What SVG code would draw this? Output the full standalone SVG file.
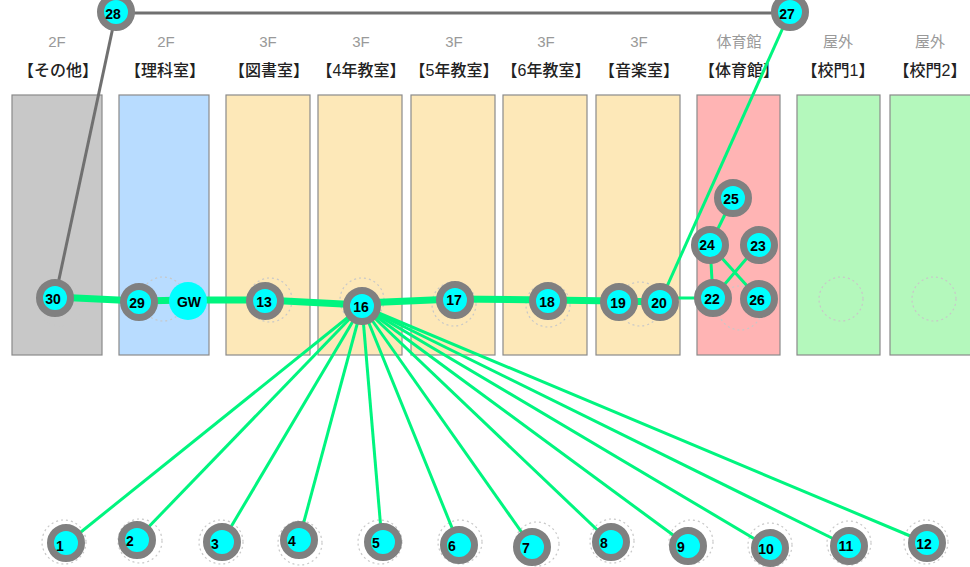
<svg xmlns="http://www.w3.org/2000/svg" width="970" height="567" viewBox="0 0 970 567">
  <style>
    .zone { stroke: #8a8a8a; stroke-width: 1.2; }
    .floor { font-family: "Liberation Sans", "Noto Sans CJK JP", sans-serif; font-size: 15px; fill: #999999; text-anchor: middle; }
    .room { font-family: "Liberation Sans", "Noto Sans CJK JP", sans-serif; font-size: 16px; font-weight: 500; fill: #222222; text-anchor: middle; }
    .home { fill: none; stroke: #c8c8c8; stroke-width: 1.2; stroke-dasharray: 2 3; }
    .ring { fill: #00ffff; stroke: #808080; stroke-width: 7; }
    .gw { fill: #00ffff; }
    .lbl { font-family: "Liberation Sans", Arial, sans-serif; font-size: 14px; font-weight: bold; fill: #000; text-anchor: middle; dominant-baseline: central; }
    .trunk { stroke: #00f57f; stroke-width: 7; stroke-linecap: butt; fill: none; }
    .link { stroke: #00f57f; stroke-width: 3; fill: none; }
    .wire { stroke: #707070; stroke-width: 3; fill: none; }
  </style>

  <rect width="970" height="567" fill="#ffffff"/>

  <!-- room columns -->
  <g id="zones">
    <rect class="zone" x="12" y="95" width="90" height="260" fill="#c8c8c8"/>
    <rect class="zone" x="119" y="95" width="90" height="260" fill="#b8dcff"/>
    <rect class="zone" x="226" y="95" width="84" height="260" fill="#fde8b8"/>
    <rect class="zone" x="318" y="95" width="84" height="260" fill="#fde8b8"/>
    <rect class="zone" x="411" y="95" width="84" height="260" fill="#fde8b8"/>
    <rect class="zone" x="503" y="95" width="84" height="260" fill="#fde8b8"/>
    <rect class="zone" x="596" y="95" width="84" height="260" fill="#fde8b8"/>
    <rect class="zone" x="697" y="95" width="83" height="260" fill="#ffb4b4"/>
    <rect class="zone" x="797" y="95" width="83" height="260" fill="#b4f8bc"/>
    <rect class="zone" x="890" y="95" width="84" height="260" fill="#b4f8bc"/>
  </g>

  <!-- column headings -->
  <g id="headings">
    <text class="floor" x="57" y="47">2F</text>
    <text class="room" x="58" y="76">【その他】</text>
    <text class="floor" x="166" y="47">2F</text>
    <text class="room" x="165" y="76">【理科室】</text>
    <text class="floor" x="268" y="47">3F</text>
    <text class="room" x="269" y="76">【図書室】</text>
    <text class="floor" x="361" y="47">3F</text>
    <text class="room" x="361" y="76">【4年教室】</text>
    <text class="floor" x="454" y="47">3F</text>
    <text class="room" x="454" y="76">【5年教室】</text>
    <text class="floor" x="546" y="47">3F</text>
    <text class="room" x="546" y="76">【6年教室】</text>
    <text class="floor" x="639" y="47">3F</text>
    <text class="room" x="639" y="76">【音楽室】</text>
    <text class="floor" x="739" y="47">体育館</text>
    <text class="room" x="739" y="76">【体育館】</text>
    <text class="floor" x="838" y="47">屋外</text>
    <text class="room" x="838" y="76">【校門1】</text>
    <text class="floor" x="930" y="47">屋外</text>
    <text class="room" x="930" y="76">【校門2】</text>
  </g>

  <!-- home positions (dotted) -->
  <g id="homes">
    <circle class="home" cx="60" cy="304" r="22"/>
    <circle class="home" cx="163" cy="299" r="22"/>
    <circle class="home" cx="270" cy="300" r="22"/>
    <circle class="home" cx="362" cy="300" r="22"/>
    <circle class="home" cx="454" cy="304" r="22"/>
    <circle class="home" cx="548" cy="305" r="22"/>
    <circle class="home" cx="640" cy="304" r="22"/>
    <circle class="home" cx="740" cy="308" r="22"/>
    <circle class="home" cx="841" cy="299" r="22"/>
    <circle class="home" cx="934" cy="299" r="22"/>
    <circle class="home" cx="64" cy="542" r="22"/>
    <circle class="home" cx="140" cy="541" r="22"/>
    <circle class="home" cx="221" cy="542" r="22"/>
    <circle class="home" cx="300" cy="543" r="22"/>
    <circle class="home" cx="380" cy="542" r="22"/>
    <circle class="home" cx="460" cy="542" r="22"/>
    <circle class="home" cx="537" cy="544" r="22"/>
    <circle class="home" cx="612" cy="541" r="22"/>
    <circle class="home" cx="691" cy="542" r="22"/>
    <circle class="home" cx="770" cy="545" r="22"/>
    <circle class="home" cx="849" cy="543" r="22"/>
    <circle class="home" cx="926" cy="542" r="22"/>
  </g>

  <!-- connectors -->
  <g id="connectors">
    <line class="wire" x1="116" y1="13" x2="790" y2="13"/>
    <line class="wire" x1="116" y1="13" x2="55" y2="298"/>
    <line class="link" x1="790" y1="12" x2="660" y2="302"/>

    <line class="trunk" x1="55" y1="297" x2="139" y2="301"/>
    <line class="trunk" x1="139" y1="301" x2="188" y2="300"/>
    <line class="trunk" x1="188" y1="300" x2="265" y2="300"/>
    <line class="trunk" x1="265" y1="300" x2="362" y2="305" stroke-width="8"/>
    <line class="trunk" x1="362" y1="303" x2="455" y2="299"/>
    <line class="trunk" x1="455" y1="299" x2="548" y2="300"/>
    <line class="trunk" x1="548" y1="300" x2="618" y2="301"/>
    <line class="trunk" x1="618" y1="301" x2="660" y2="302"/>
    <line class="link" x1="660" y1="298" x2="713" y2="298"/>

    <line class="link" x1="710" y1="245" x2="733" y2="198"/>
    <line class="link" x1="710" y1="245" x2="713" y2="298"/>
    <line class="link" x1="710" y1="245" x2="759" y2="299"/>
    <line class="link" x1="758" y1="245" x2="713" y2="298"/>

    <line class="link" x1="362" y1="306" x2="66" y2="544"/>
    <line class="link" x1="362" y1="306" x2="136" y2="540"/>
    <line class="link" x1="362" y1="306" x2="222" y2="542"/>
    <line class="link" x1="362" y1="306" x2="299" y2="540"/>
    <line class="link" x1="362" y1="306" x2="382" y2="542"/>
    <line class="link" x1="362" y1="306" x2="459" y2="545"/>
    <line class="link" x1="362" y1="306" x2="532" y2="547"/>
    <line class="link" x1="362" y1="306" x2="611" y2="543"/>
    <line class="link" x1="362" y1="306" x2="688" y2="546"/>
    <line class="link" x1="362" y1="306" x2="770" y2="548"/>
    <line class="link" x1="362" y1="306" x2="848" y2="546"/>
    <line class="link" x1="362" y1="306" x2="927" y2="543"/>
  </g>

  <!-- nodes -->
  <g id="n28"><circle class="ring" cx="116" cy="12" r="15.5"/><text class="lbl" x="113" y="14">28</text></g>
  <g id="n27"><circle class="ring" cx="790" cy="12" r="15.5"/><text class="lbl" x="787" y="14">27</text></g>
  <g id="n30"><circle class="ring" cx="55" cy="298" r="15.5"/><text class="lbl" x="53" y="299">30</text></g>
  <g id="n29"><circle class="ring" cx="139" cy="302" r="15.5"/><text class="lbl" x="137" y="303">29</text></g>
  <g id="nGW"><circle class="gw" cx="188" cy="301" r="19"/><text class="lbl" x="189" y="302">GW</text></g>
  <g id="n13"><circle class="ring" cx="265" cy="301" r="15.5"/><text class="lbl" x="264" y="302">13</text></g>
  <g id="n16"><circle class="ring" cx="362" cy="306" r="15.5"/><text class="lbl" x="361" y="307">16</text></g>
  <g id="n17"><circle class="ring" cx="455" cy="300" r="15.5"/><text class="lbl" x="454" y="300">17</text></g>
  <g id="n18"><circle class="ring" cx="548" cy="301" r="15.5"/><text class="lbl" x="547" y="302">18</text></g>
  <g id="n19"><circle class="ring" cx="619" cy="302" r="15.5"/><text class="lbl" x="618" y="303">19</text></g>
  <g id="n20"><circle class="ring" cx="660" cy="302" r="15.5"/><text class="lbl" x="659" y="303">20</text></g>
  <g id="n25"><circle class="ring" cx="733" cy="198" r="15.5"/><text class="lbl" x="731" y="199">25</text></g>
  <g id="n24"><circle class="ring" cx="710" cy="245" r="15.5"/><text class="lbl" x="707" y="245">24</text></g>
  <g id="n23"><circle class="ring" cx="759" cy="245" r="15.5"/><text class="lbl" x="758" y="246">23</text></g>
  <g id="n22"><circle class="ring" cx="713" cy="298" r="15.5"/><text class="lbl" x="712" y="299">22</text></g>
  <g id="n26"><circle class="ring" cx="759" cy="299" r="15.5"/><text class="lbl" x="757" y="300">26</text></g>

  <g id="n1"><circle class="ring" cx="66" cy="543" r="15.5"/><text class="lbl" x="60" y="546">1</text></g>
  <g id="n2"><circle class="ring" cx="137" cy="540" r="15.5"/><text class="lbl" x="130" y="541">2</text></g>
  <g id="n3"><circle class="ring" cx="222" cy="542" r="15.5"/><text class="lbl" x="215" y="544">3</text></g>
  <g id="n4"><circle class="ring" cx="299" cy="540" r="15.5"/><text class="lbl" x="292" y="541">4</text></g>
  <g id="n5"><circle class="ring" cx="383" cy="542" r="15.5"/><text class="lbl" x="376" y="543">5</text></g>
  <g id="n6"><circle class="ring" cx="459" cy="545" r="15.5"/><text class="lbl" x="452" y="546">6</text></g>
  <g id="n7"><circle class="ring" cx="532" cy="547" r="15.5"/><text class="lbl" x="526" y="548">7</text></g>
  <g id="n8"><circle class="ring" cx="611" cy="542" r="15.5"/><text class="lbl" x="604" y="543">8</text></g>
  <g id="n9"><circle class="ring" cx="688" cy="546" r="15.5"/><text class="lbl" x="681" y="547">9</text></g>
  <g id="n10"><circle class="ring" cx="770" cy="548" r="15.5"/><text class="lbl" x="766" y="549">10</text></g>
  <g id="n11"><circle class="ring" cx="849" cy="546" r="15.5"/><text class="lbl" x="846" y="546">11</text></g>
  <g id="n12"><circle class="ring" cx="927" cy="543" r="15.5"/><text class="lbl" x="924" y="544">12</text></g>
</svg>
